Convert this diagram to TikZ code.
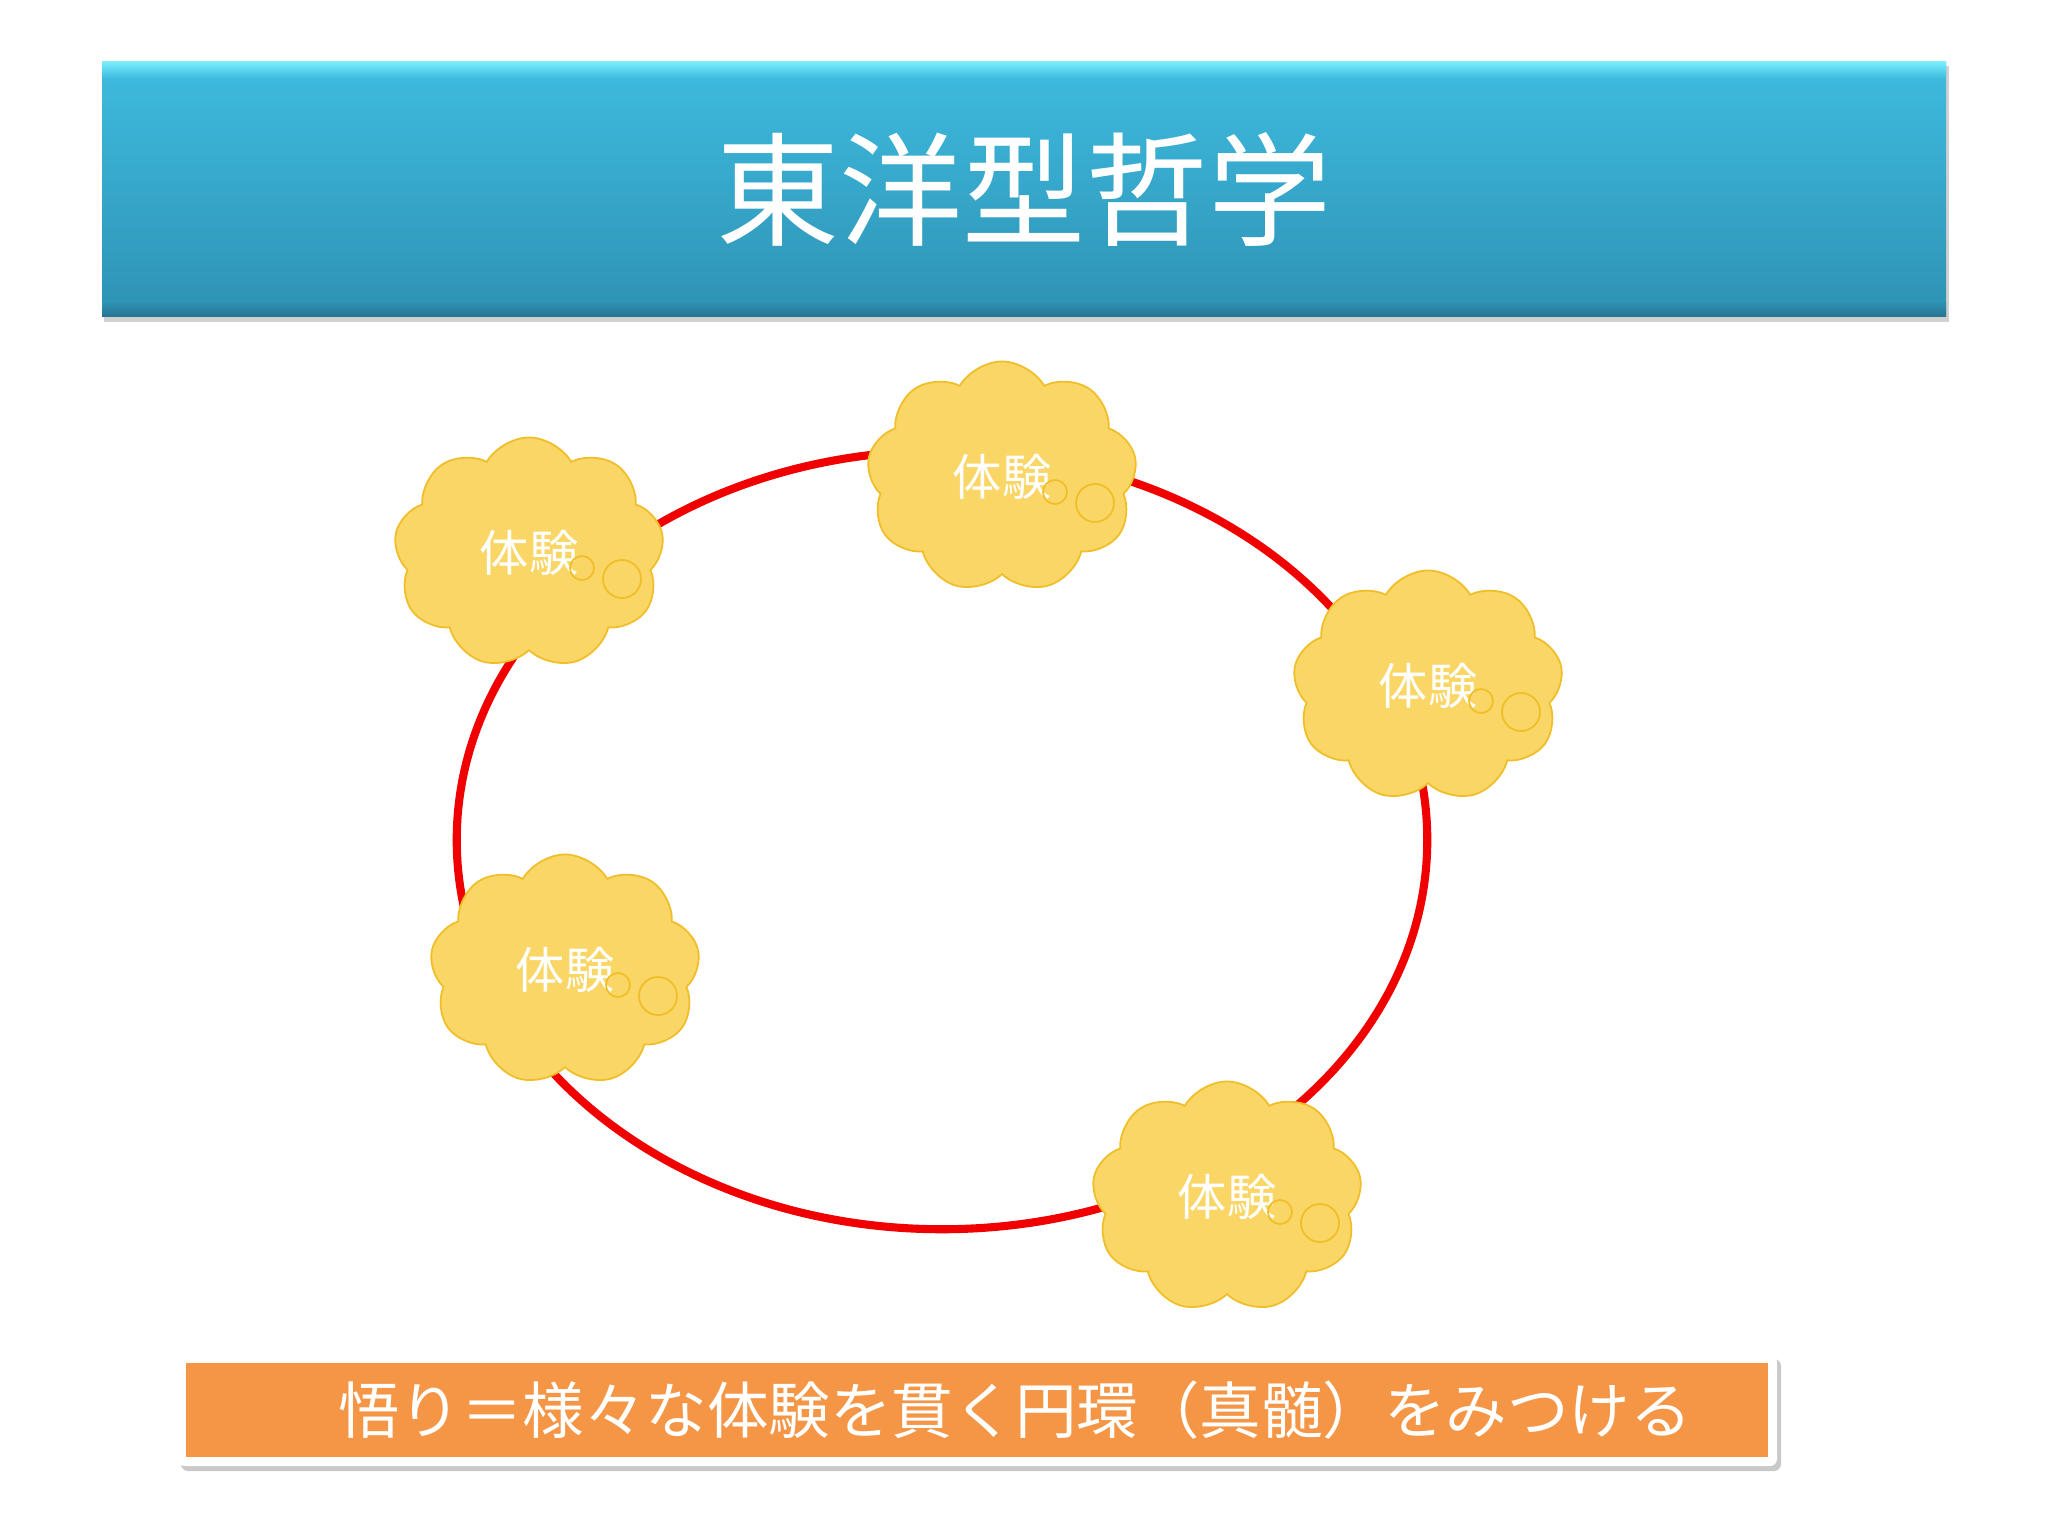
\documentclass[tikz,border=0pt]{standalone}
\usepackage{fontspec}
\newfontfamily\jp{Noto Sans CJK JP}
\usetikzlibrary{shapes.symbols,shapes.geometric}
\definecolor{barTop}{RGB}{62,188,224}
\definecolor{barBot}{RGB}{46,146,180}
\definecolor{barHi}{RGB}{125,240,255}
\definecolor{barDark}{RGB}{38,118,146}
\definecolor{cloudFill}{RGB}{250,214,102}
\definecolor{cloudLine}{RGB}{240,190,40}
\definecolor{orangeBar}{RGB}{245,150,70}
\definecolor{ringRed}{RGB}{240,0,0}
\begin{document}
\begin{tikzpicture}[x=0.01cm,y=-0.01cm,
  cloudbox/.style={cloud, cloud puffs=9, cloud puff arc=120, aspect=1.17,
    minimum width=2.7cm, minimum height=2.31cm, inner sep=0pt,
    fill=cloudFill, draw=cloudLine, line width=0.5pt, text=white,
    font=\jp\fontsize{14}{16}\selectfont},
  bubble/.style={circle, draw=cloudLine, line width=0.5pt, inner sep=0pt}]
\useasboundingbox[fill=white] (0,0) rectangle (2048,1536);
% title bar
\fill[black!40, opacity=0.45] (104,66) rectangle (1949,322);
\shade[top color=barTop, bottom color=barBot] (102,61) rectangle (1946,316);
\shade[top color=barHi, bottom color=barTop] (102,61) rectangle (1946,78);
\shade[top color=barBot, bottom color=barDark] (102,302) rectangle (1946,316);
\node[text=white, font=\jp\fontsize{35}{40}\selectfont] (title) at (1024,189) {東洋型哲学};
% ring
\node[ellipse, draw=ringRed, line width=2.3pt, minimum width=9.7cm, minimum height=7.78cm] (ring) at (942,840) {};
% clouds
\node[cloudbox] (c1) at (529,553) {体験};
\node[cloudbox] (c2) at (1002,477) {体験};
\node[cloudbox] (c3) at (1428,686) {体験};
\node[cloudbox] (c4) at (565,970) {体験};
\node[cloudbox] (c5) at (1227,1197) {体験};
\foreach \n in {1,...,5}{
  \node[bubble, minimum size=0.24cm] (s\n) at ([shift={(53,15)}]c\n.center) {};
  \node[bubble, minimum size=0.38cm] (b\n) at ([shift={(93,26)}]c\n.center) {};
}
% caption
\fill[black!35, opacity=0.6, rounded corners=2pt] (181,1359) rectangle (1781,1471);
\fill[white, rounded corners=2pt] (178,1355) rectangle (1777,1466);
\node[fill=orangeBar, minimum width=15.82cm, minimum height=0.94cm, inner sep=0pt] (capbox) at (977,1410) {};
\node[text=white, font=\jp\fontsize{17.5}{20}\selectfont] (captext) at (1015,1410) {悟り＝様々な体験を貫く円環（真髄）をみつける};
\end{tikzpicture}
\end{document}
